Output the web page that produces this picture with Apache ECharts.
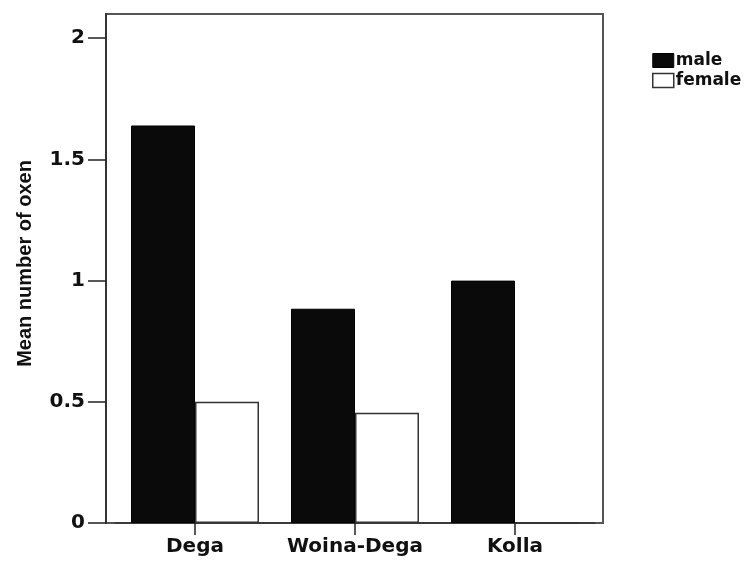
<!DOCTYPE html>
<html><head><meta charset="utf-8">
<script src="https://cdn.jsdelivr.net/npm/echarts@6/dist/echarts.min.js"></script>
<style>html,body{margin:0;padding:0;background:#fff}#c{width:754px;height:561px}</style>
</head><body><div id="c"></div>
<script>
const categories = ['Dega', 'Woina-Dega', 'Kolla'];
const maleValues = [1.64, 0.884, 1.0];
const femaleValues = [0.5, 0.455, 0];
const yTicks = ['0', '0.5', '1', '1.5', '2'];

const chart = echarts.init(document.getElementById('c'));
const wide = '"DejaVu Sans", Verdana, sans-serif';
const arial = '"Liberation Sans", Arial, sans-serif';
chart.setOption({
  animation: false,
  backgroundColor: '#fff',
  grid: [
    {left: 106, top: 14, width: 497, height: 509, show: true, borderColor: '#555', borderWidth: 2, backgroundColor: 'transparent'},
    {left: 115, top: 14, width: 480, height: 509}
  ],
  legend: {
    orient: 'vertical', left: 647, top: 47, itemWidth: 21, itemHeight: 14, itemGap: 3, icon: 'rect',
    textStyle: {fontFamily: wide, fontWeight: 'bold', fontSize: 17, lineHeight: 17, color: '#111', padding: [0,0,0,-3]},
    data: [
      {name: 'male', itemStyle: {color: '#0a0a0a', borderColor: '#000', borderWidth: 1}},
      {name: 'female', itemStyle: {color: '#fff', borderColor: '#333', borderWidth: 1.5}}
    ]
  },
  xAxis: [
    {gridIndex: 0, type: 'category', data: categories, show: false},
    {gridIndex: 1, type: 'category', data: categories,
      axisLine: {show: true, lineStyle: {color: '#333', width: 1.5}},
      axisTick: {show: true, alignWithLabel: true, length: 12, lineStyle: {color: '#222', width: 1.5}},
      axisLabel: {interval: 0, fontFamily: wide, fontWeight: 'bold', fontSize: 20, color: '#111', margin: 14}
    }
  ],
  yAxis: [
    {gridIndex: 0, type: 'value', min: 0, max: 2.1, interval: 0.5,
      name: 'Mean number of oxen', nameLocation: 'middle', nameGap: 71, nameRotate: 90,
      nameTextStyle: {fontFamily: arial, fontWeight: 'bold', fontSize: 20, color: '#111', padding: [0,0,0,10]},
      axisLine: {show: true, lineStyle: {color: '#333', width: 2}},
      axisTick: {show: true, length: 18, lineStyle: {color: '#222', width: 1.5}},
      splitLine: {show: false},
      axisLabel: {fontFamily: wide, fontWeight: 'bold', fontSize: 20, color: '#111', margin: 21,
        showMaxLabel: false,
        formatter: v => (yTicks.indexOf(String(v)) >= 0 ? String(v) : '')}
    },
    {gridIndex: 1, type: 'value', min: 0, max: 2.1, interval: 0.5, show: false, splitLine: {show: false}}
  ],
  series: [
    {name: 'male', type: 'bar', xAxisIndex: 1, yAxisIndex: 1, data: maleValues,
      barGap: '0%', barCategoryGap: '20%',
      itemStyle: {color: '#0a0a0a', borderColor: '#000', borderWidth: 1}},
    {name: 'female', type: 'bar', xAxisIndex: 1, yAxisIndex: 1, data: femaleValues,
      barGap: '0%', barCategoryGap: '20%',
      itemStyle: {color: '#fff', borderColor: '#333', borderWidth: 1.5}}
  ]
});
</script></body></html>
